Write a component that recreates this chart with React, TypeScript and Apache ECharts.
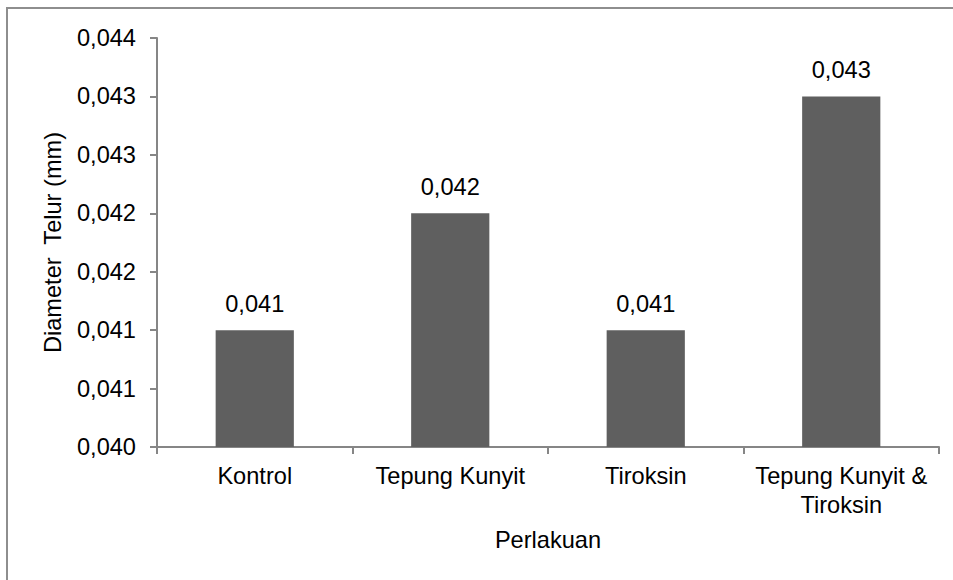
import React, { useEffect, useRef } from "react";
import * as echarts from "echarts";

const categories = ["Kontrol", "Tepung Kunyit", "Tiroksin", "Tepung Kunyit & Tiroksin"];
const values = [0.041, 0.042, 0.041, 0.043];
const yMin = 0.04;
const yMax = 0.0435;
const yInterval = 0.0005;
const yTitle = "Diameter  Telur (mm)";
const xTitle = "Perlakuan";

const FONT = "'Liberation Sans', Arial, sans-serif";
const FS = 23.6;

function fmt(v: number): string {
  const r = Math.round(Math.round(v * 10000) / 10);
  return (r / 1000).toFixed(3).replace(".", ",");
}

export default function App() {
  const ref = useRef<HTMLDivElement>(null);
  useEffect(() => {
    if (!ref.current) return;
    const chart = echarts.init(ref.current, undefined, { renderer: "svg" });
    chart.setOption({
      animation: false,
      backgroundColor: "#ffffff",
      textStyle: { fontFamily: FONT },
      graphic: [
        {
          type: "rect",
          shape: { x: 7, y: 8, width: 1000, height: 1000 },
          style: { fill: "none", stroke: "#8e8e8e", lineWidth: 2 },
          silent: true,
        },
      ],
      grid: { left: 157, right: 14, top: 38, bottom: 133, containLabel: false },
      xAxis: {
        type: "category",
        data: categories,
        name: xTitle,
        nameLocation: "middle",
        nameGap: 81,
        nameTextStyle: { fontSize: FS, color: "#000", fontFamily: FONT },
        axisLine: { lineStyle: { color: "#868686", width: 2 } },
        axisTick: { show: true, alignWithLabel: false, length: 7, lineStyle: { color: "#868686", width: 2 } },
        axisLabel: {
          interval: 0,
          fontSize: FS,
          color: "#000",
          fontFamily: FONT,
          margin: 14,
          lineHeight: 29,
          formatter: (v: string) => v.replace(" & ", " &\n"),
        },
      },
      yAxis: {
        type: "value",
        min: yMin,
        max: yMax,
        interval: yInterval,
        name: yTitle,
        nameLocation: "middle",
        nameGap: 92,
        nameTextStyle: { fontSize: FS, color: "#000", fontFamily: FONT },
        axisLine: { show: true, lineStyle: { color: "#868686", width: 2 } },
        axisTick: { show: true, length: 7, lineStyle: { color: "#868686", width: 2 } },
        splitLine: { show: false },
        axisLabel: {
          fontSize: FS,
          color: "#000",
          fontFamily: FONT,
          margin: 21,
          formatter: (v: number) => fmt(v),
        },
      },
      series: [
        {
          type: "bar",
          data: values,
          barWidth: "40%",
          itemStyle: { color: "#5f5f5f" },
          label: {
            show: true,
            position: "top",
            distance: 14,
            fontSize: FS,
            color: "#000",
            fontFamily: FONT,
            formatter: (p: any) => fmt(p.value),
          },
        },
      ],
    });
    return () => chart.dispose();
  }, []);
  return (
    <div
      ref={ref}
      style={{ position: "fixed", left: 0, top: 0, width: 953, height: 580 }}
    />
  );
}
